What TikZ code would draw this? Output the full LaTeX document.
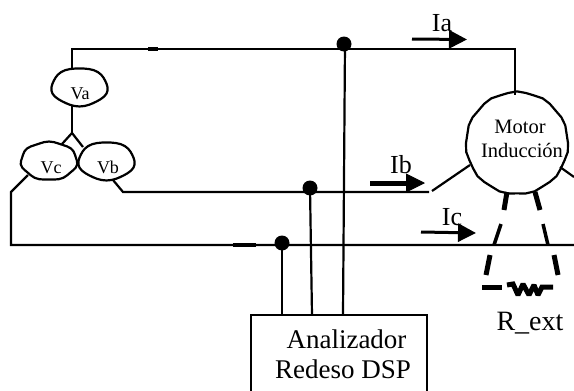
\documentclass[tikz,border=0pt]{standalone}
\usepackage{fontspec}
\setmainfont{Liberation Serif}
\usetikzlibrary{arrows.meta}
\newcommand{\wobbly}[6]{% cx cy rx ry lobes amp
 \draw[wire,line join=round] plot[samples at={0,10,...,350}] ({#1+#3*(1+#6*sin(#5*\x))*cos(\x)},{#2+#4*(1+#6*sin(#5*\x))*sin(\x)}) -- cycle;}
\tikzset{
 wire/.style={draw=black,line width=2.2pt},
 joint/.style={circle,fill=black,minimum size=15pt,inner sep=0pt},
 lbl/.style={inner sep=0pt,anchor=base,font=\fontsize{26}{26}\selectfont},
 big/.style={inner sep=0pt,anchor=base,font=\fontsize{27}{27}\selectfont},
 mlbl/.style={inner sep=0pt,anchor=base,font=\fontsize{18}{18}\selectfont},
 motortxt/.style={inner sep=0pt,anchor=base,font=\fontsize{20.5}{20.5}\selectfont},
 flow/.style={line width=3pt,-{Triangle[length=18pt,width=18pt]}},
 dashseg/.style={line width=5pt},
 dashthin/.style={line width=3.5pt}
}
\begin{document}
\begin{tikzpicture}[x=1pt,y=-1pt]
\useasboundingbox (0,0) rectangle (574,391);
\wobbly{79.5}{87}{28}{19}{5}{0.025}
\wobbly{49}{161}{28}{19}{7}{0.025}
\wobbly{106.5}{161}{28}{19}{5}{0.025}
\wobbly{517}{143}{51}{51}{11}{0.012}
\node[mlbl] (Va) at (80,99) {Va};
\node[mlbl] (Vc) at (51,173) {Vc};
\node[mlbl] (Vb) at (108,173) {Vb};
\node[motortxt] (Mt) at (520,133) {Motor};
\node[motortxt] (Mi) at (522,157) {Inducción};
\node[joint] (Ja) at (344,44) {};
\node[joint] (Jb) at (310,188) {};
\node[joint] (Jc) at (282,243) {};
\draw[wire] (251,400) -- (251,315) -- (427,315) -- (427,400);
\node[big] (An) at (346.5,348) {Analizador};
\node[big] (Re) at (343,378) {Redeso DSP};
% phase a
\coordinate (A1) at (72,49); \coordinate (A2) at (515,49);
\draw[wire] (72,68) -- (A1) -- (A2) -- (515,95);
\draw[line width=3.5pt] (148,49) -- (158,49);
% star
\coordinate (S) at (72,133);
\draw[wire] (72,106) -- (S);
\draw[wire] (62,144) -- (S) -- (83,147);
% phase b
\coordinate (B1) at (123,192);
\draw[wire] (113,180) -- (B1) -- (429,192);
\draw[wire] (432,191) -- (470,165);
% phase c
\coordinate (C1) at (11,192); \coordinate (C2) at (11,245);
\draw[wire] (28,175) -- (C1) -- (C2) -- (574,245);
\draw[line width=3.5pt] (233,245) -- (256,245);
\draw[wire] (560,167) -- (574,177);
% taps
\draw[wire] (345,44) -- (343,315);
\draw[wire] (Jb.center) -- (312,315);
\draw[wire] (Jc.center) -- (282,315);
% currents
\draw[flow] (412,39) -- (467,39.5);
\node[lbl] (Ia) at (442,31) {Ia};
\draw[line width=5pt] (370,183) -- (407,183);
\draw[-{Triangle[length=19pt,width=19pt]},line width=1pt] (405,183) -- (425,183);
\node[lbl] (Ib) at (401,173) {Ib};
\draw[flow] (421,232) -- (476,233);
\node[lbl] (Ic) at (452,225) {Ic};
% rotor
\draw[dashseg] (507,192) -- (504,210);
\draw[dashthin] (501,224) -- (494,245);
\draw[dashseg] (490,255) -- (486,275);
\draw[dashseg] (535,192) -- (540,210);
\draw[dashthin] (543,224) -- (548,245);
\draw[dashseg] (554,255) -- (558,275);
\draw[dashseg] (482,287) -- (502,287);
\draw[line width=5pt,line join=miter,miter limit=2] (507,285) -- (513,284) -- (518,295) -- (523,284) -- (529,295) -- (534,285) -- (538,295) -- (542,287) -- (553,287);
\node[big,font=\fontsize{28}{28}\selectfont] (R) at (530,330) {R\_ext};
\end{tikzpicture}
\end{document}
